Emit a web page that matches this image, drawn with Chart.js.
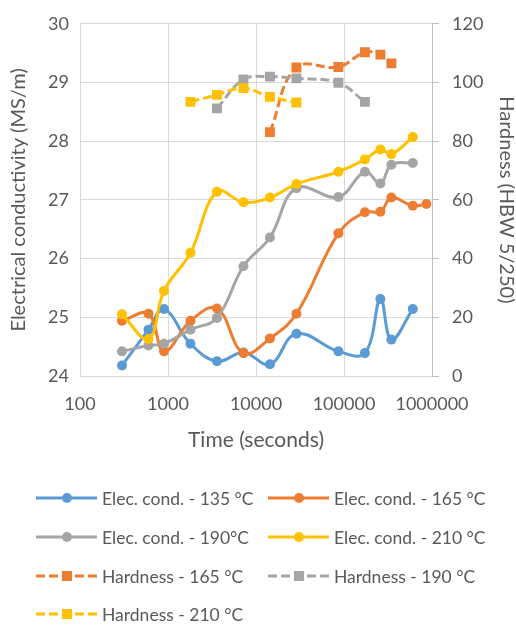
<!DOCTYPE html>
<html>
<head>
<meta charset="utf-8">
<script src="https://cdn.jsdelivr.net/npm/chart.js@4/dist/chart.umd.min.js"></script>
<style>
  html, body { margin: 0; padding: 0; background: #ffffff; }
  #c { display: block; }
</style>
</head>
<body>
<canvas id="c" width="516" height="627"></canvas>
<script>
// ---- data ----
const times = [300, 600, 900, 1800, 3600, 7200, 14400, 28800, 86400, 172800, 259200, 345600, 604800, 864000];
const xTicks = [100, 1000, 10000, 100000, 1000000];
const cond135 = [24.18, 24.79, 25.14, 24.55, 24.25, 24.40, 24.20, 24.72, 24.42, 24.39, 25.31, 24.62, 25.14, null];
const cond165 = [24.94, 25.06, 24.42, 24.94, 25.15, 24.39, 24.64, 25.06, 26.43, 26.79, 26.80, 27.04, 26.90, 26.93];
const cond190 = [24.42, 24.52, 24.55, 24.79, 24.99, 25.87, 26.36, 27.20, 27.05, 27.48, 27.28, 27.60, 27.63, null];
const cond210 = [25.05, 24.63, 25.45, 26.10, 27.14, 26.96, 27.04, 27.27, 27.48, 27.69, 27.86, 27.78, 28.07, null];
const hard165 = [null, null, null, null, null, null, 83.1, 105.1, 105.3, 110.3, 109.5, 106.5, null, null];
const hard190 = [null, null, null, null, 91.2, 101.0, 102.0, 101.4, 99.9, 93.4, null, null, null, null];
const hard210 = [null, null, null, 93.4, 95.8, 98.1, 95.1, 93.2, null, null, null, null, null, null];
const seriesNames = [
  'Elec. cond. - 135 °C', 'Elec. cond. - 165 °C', 'Elec. cond. - 190°C', 'Elec. cond. - 210 °C',
  'Hardness - 165 °C', 'Hardness - 190 °C', 'Hardness - 210 °C'
];

const BLUE = '#5B9BD5', ORANGE = '#ED7D31', GRAY = '#A5A5A5', YELLOW = '#FFC000';
const TEXT = '#595959';
const FONT = 'Lato';

function pts(vals) {
  const out = [];
  vals.forEach((v, i) => { if (v !== null) out.push({ x: times[i], y: v }); });
  return out;
}

function condSet(name, vals, color, order) {
  return {
    label: name, data: pts(vals), yAxisID: 'y',
    borderColor: color, backgroundColor: color,
    borderWidth: 3, pointStyle: 'circle', pointRadius: 5, pointHoverRadius: 5,
    pointBorderWidth: 0, tension: 0.4, order: order, fill: false
  };
}
function hardSet(name, vals, color, order) {
  return {
    label: name, data: pts(vals), yAxisID: 'y1',
    borderColor: color, backgroundColor: color, borderDash: [9, 4],
    borderWidth: 3, pointStyle: 'rect', pointRadius: 7, pointHoverRadius: 7,
    pointBorderWidth: 0, tension: 0.4, order: order, fill: false
  };
}

const datasets = [
  condSet(seriesNames[0], cond135, BLUE, 7),
  condSet(seriesNames[1], cond165, ORANGE, 6),
  condSet(seriesNames[2], cond190, GRAY, 5),
  condSet(seriesNames[3], cond210, YELLOW, 4),
  hardSet(seriesNames[4], hard165, ORANGE, 3),
  hardSet(seriesNames[5], hard190, GRAY, 2),
  hardSet(seriesNames[6], hard210, YELLOW, 1)
];

// custom two-column legend, drawn below the chart
const legendPlugin = {
  id: 'gridLegend',
  afterDraw(chart) {
    const ctx = chart.ctx;
    const colX = [36, 268];
    const rowY = [498, 537, 576, 614];
    ctx.save();
    ctx.font = '17.5px ' + FONT;
    ctx.textBaseline = 'middle';
    ctx.textAlign = 'left';
    chart.data.datasets.forEach((ds, i) => {
      const x0 = colX[i % 2], y = rowY[Math.floor(i / 2)];
      const x1 = x0 + 61, xm = x0 + 31;
      ctx.strokeStyle = ds.borderColor;
      ctx.lineWidth = 3;
      ctx.setLineDash(ds.borderDash || []);
      ctx.beginPath(); ctx.moveTo(x0, y); ctx.lineTo(x1, y); ctx.stroke();
      ctx.setLineDash([]);
      ctx.fillStyle = ds.backgroundColor;
      if (ds.pointStyle === 'rect') {
        ctx.fillRect(xm - 5, y - 5, 10, 10);
      } else {
        ctx.beginPath(); ctx.arc(xm, y, 5, 0, Math.PI * 2); ctx.fill();
      }
      ctx.fillStyle = TEXT;
      ctx.fillText(ds.label, x1 + 5, y + 1);
    });
    ctx.restore();
  }
};

new Chart(document.getElementById('c'), {
  type: 'line',
  data: { datasets: datasets },
  plugins: [legendPlugin],
  options: {
    responsive: false,
    devicePixelRatio: 1,
    animation: false,
    layout: { padding: { top: 17, left: 0, right: 0, bottom: 170 } },
    plugins: { legend: { display: false }, tooltip: { enabled: false } },
    scales: {
      x: {
        type: 'logarithmic', min: 100, max: 1000000,
        afterBuildTicks(scale) { scale.ticks = xTicks.map(v => ({ value: v })); },
        afterFit(scale) { scale.height = 81; },
        ticks: {
          autoSkip: false, maxRotation: 0, padding: 17, color: TEXT,
          font: { family: FONT, size: 18 },
          callback: v => String(v)
        },
        grid: { color: '#d9d9d9', lineWidth: 1, drawTicks: false },
        border: { display: true, color: '#d9d9d9' },
        title: {
          display: true, text: 'Time (seconds)', color: TEXT,
          font: { family: FONT, size: 21 }, padding: { top: 0, bottom: 4 }
        }
      },
      y: {
        position: 'left', min: 24, max: 30,
        afterFit(scale) { scale.width = 80; },
        ticks: { stepSize: 1, padding: 11, color: TEXT, font: { family: FONT, size: 18 } },
        grid: { color: '#d9d9d9', lineWidth: 1, drawTicks: false },
        border: { display: false },
        title: {
          display: true, text: 'Electrical conductivity (MS/m)', color: TEXT,
          font: { family: FONT, size: 20 }, padding: { top: 7, bottom: 0 }
        }
      },
      y1: {
        position: 'right', min: 0, max: 120,
        afterFit(scale) { scale.width = 84; },
        ticks: { stepSize: 20, padding: 13, color: TEXT, font: { family: FONT, size: 18 } },
        grid: { drawOnChartArea: false, color: '#bfbfbf', tickLength: 7 },
        border: { display: true, color: '#bfbfbf' },
        title: {
          display: true, text: 'Hardness (HBW 5/250)', color: TEXT,
          font: { family: FONT, size: 20 }, padding: { top: -2, bottom: 0 }
        }
      }
    }
  }
});
</script>
</body>
</html>
